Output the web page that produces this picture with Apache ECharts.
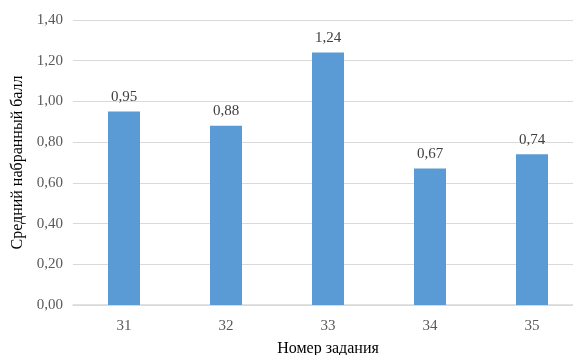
<!DOCTYPE html>
<html><head><meta charset="utf-8">
<script src="https://cdn.jsdelivr.net/npm/echarts@6/dist/echarts.min.js"></script>
<style>html,body{margin:0;padding:0;background:#fff}#c{width:573px;height:355px}</style>
</head><body><div id="c"></div>
<script>
var categories = ['31', '32', '33', '34', '35'];
var values = [0.95, 0.88, 1.24, 0.67, 0.74];
var yTicks = [0, 0.2, 0.4, 0.6, 0.8, 1.0, 1.2, 1.4];

var FF = "'Liberation Serif', 'Times New Roman', serif";
var fmt = function (v) { return Number(v).toFixed(2).replace('.', ','); };
var chart = echarts.init(document.getElementById('c'));
chart.setOption({
  animation: false,
  textStyle: { fontFamily: FF },
  grid: { left: 73, width: 510, top: 20, bottom: 50, containLabel: false, outerBoundsMode: 'none' },
  xAxis: {
    type: 'category', data: categories,
    name: 'Номер задания', nameLocation: 'middle', nameGap: 36,
    nameTextStyle: { color: '#000', fontSize: 16, fontFamily: FF },
    axisLine: { lineStyle: { color: '#d9d9d9', width: 1.5 } },
    axisTick: { show: false },
    axisLabel: { color: '#595959', fontSize: 15, margin: 14, fontFamily: FF }
  },
  yAxis: {
    type: 'value', min: 0, max: 1.4, interval: 0.2,
    name: 'Средний набранный балл', nameLocation: 'middle', nameGap: 46,
    nameTextStyle: { color: '#000', fontSize: 16, fontFamily: FF },
    axisLine: { show: false }, axisTick: { show: false },
    splitLine: { lineStyle: { color: '#d9d9d9', width: 1 } },
    axisLabel: { color: '#595959', fontSize: 15, margin: 10, fontFamily: FF, formatter: fmt }
  },
  series: [{
    type: 'bar', data: values, barWidth: 32,
    itemStyle: { color: '#5b9bd5' },
    label: { show: true, position: 'top', distance: 7, color: '#404040', fontSize: 15, fontFamily: FF, formatter: function (p) { return fmt(p.value); } }
  }]
});
</script></body></html>
